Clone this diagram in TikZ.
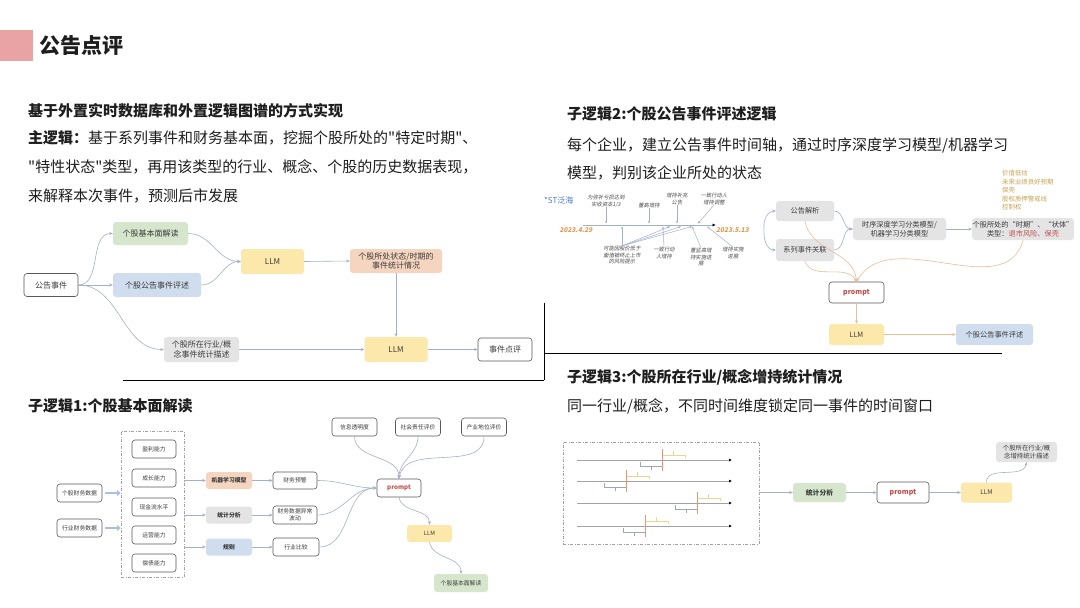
\documentclass[tikz,border=0pt]{standalone}
\usepackage{fontspec}
\setmainfont{Noto Sans CJK SC}
% body text family without TeX quote ligatures, so " stays a straight quote
\newfontfamily\plainfont{Noto Sans CJK SC}
\newfontfamily\slantfont[FakeSlant=0.18]{Noto Sans CJK SC}
\usetikzlibrary{arrows.meta}

\definecolor{ink}{HTML}{1E1E1E}
\definecolor{boxtext}{HTML}{3A3A3A}
\definecolor{outline}{HTML}{5A5A5A}
\definecolor{fillgreen}{HTML}{D6E6CC}
\definecolor{fillblue}{HTML}{CFDDEE}
\definecolor{fillgray}{HTML}{E4E4E4}
\definecolor{fillyellow}{HTML}{FCE8AA}
\definecolor{fillpeach}{HTML}{F5D5BF}
\definecolor{edgeblue}{HTML}{A3B0CC}
\definecolor{edgetan}{HTML}{E9BE9A}
\definecolor{promptred}{HTML}{C0504D}
\definecolor{datecol}{HTML}{E59A52}
\definecolor{goldtext}{HTML}{C9A352}
\definecolor{stblue}{HTML}{4A7CC8}
\definecolor{headpink}{HTML}{E9A3A5}
\definecolor{notegray}{HTML}{4A4A4A}
\definecolor{axisgray}{HTML}{A2A2A2}
\definecolor{markred}{HTML}{E8957A}
\definecolor{bracketyellow}{HTML}{EDD58E}
\definecolor{bracketgray}{HTML}{9FA6B6}
\definecolor{fatarrow}{HTML}{A9C1DE}

\tikzset{
  fbox/.style={rounded corners=3pt, align=center, inner sep=0.5pt, text=boxtext},
  wbox/.style={fbox, draw=outline, fill=white, line width=0.6pt},
  greenbox/.style={fbox, fill=fillgreen},
  bluebox/.style={fbox, fill=fillblue},
  graybox/.style={fbox, fill=fillgray},
  yellowbox/.style={fbox, fill=fillyellow},
  peachbox/.style={fbox, fill=fillpeach},
  fa/.style={font=\fontsize{8}{9.5}\selectfont},
  fb/.style={font=\fontsize{7.2}{9}\selectfont},
  fc/.style={font=\fontsize{5.8}{7}\selectfont},
  fd/.style={font=\fontsize{6.4}{7.8}\selectfont},
  promptlabel/.style={text=promptred, font=\fontsize{7}{8}\selectfont\bfseries},
  conn/.style={draw=edgeblue, line width=0.6pt, -{Stealth[length=3.5pt,width=3pt]}},
  tconn/.style={draw=edgetan, line width=0.6pt, -{Stealth[length=3.5pt,width=3pt]}},
  tick/.style={draw=edgeblue, line width=0.5pt, -{Stealth[length=2.6pt,width=2.2pt]}},
  note/.style={align=center, inner sep=0pt, text=notegray, font=\fontsize{5.3}{6.5}\selectfont\slantfont},
  datelabel/.style={inner sep=0pt, text=datecol, font=\fontsize{6.6}{8}\selectfont\slantfont\bfseries},
  txt/.style={anchor=west, inner sep=0pt, text=ink, font=\fontsize{15}{18}\selectfont\plainfont},
  dashbox/.style={draw=axisgray, line width=0.7pt, dash pattern=on 3pt off 1.5pt on 1pt off 1.5pt},
  rule/.style={draw=black, line width=0.9pt},
}

\begin{document}
\begin{tikzpicture}[x=1pt,y=-1pt]
\useasboundingbox (0,0) rectangle (1080,608);
\fill[white] (0,0) rectangle (1080,608);

% ---------- header ----------
\fill[headpink] (0,30) rectangle (33,61);
\node[anchor=west, inner sep=0pt, text=ink, font=\fontsize{21}{25}\selectfont\bfseries] (title) at (39,46) {公告点评};

% ---------- left text block ----------
\node[txt] (l1) at (28,111) {\bfseries 基于外置实时数据库和外置逻辑图谱的方式实现};
\node[txt] (l2) at (28,138) {{\bfseries 主逻辑：}基于系列事件和财务基本面，挖掘个股所处的"特定时期"、};
\node[txt] (l3) at (28,167) {"特性状态"类型，再用该类型的行业、概念、个股的历史数据表现，};
\node[txt] (l4) at (28,196) {来解释本次事件，预测后市发展};

% ---------- right text block ----------
\node[txt] (r1) at (567,114) {\bfseries 子逻辑2:个股公告事件评述逻辑};
\node[txt] (r2) at (567,145) {每个企业，建立公告事件时间轴，通过时序深度学习模型/机器学习};
\node[txt] (r3) at (567,173) {模型，判别该企业所处的状态};

\node[txt] (s1) at (28,406) {\bfseries 子逻辑1:个股基本面解读};
\node[txt] (s3) at (567,377) {\bfseries 子逻辑3:个股所在行业/概念增持统计情况};
\node[txt] (s3b) at (567,406) {同一行业/概念，不同时间维度锁定同一事件的时间窗口};

% ---------- separators ----------
\draw[rule] (123,380) -- (544,380);
\draw[rule] (544,303) -- (544,380);
\draw[rule] (544,353) -- (1002,353);

% ---------- main flow ----------
\node[wbox, fa, minimum width=54, minimum height=23] (ev) at (51,285) {公告事件};
\node[greenbox, fa, minimum width=75, minimum height=23] (fund) at (150.5,233.5) {个股基本面解读};
\node[bluebox, fa, minimum width=88, minimum height=24] (ann) at (157,285) {个股公告事件评述};
\node[graybox, fa, minimum width=75, minimum height=25] (ind) at (201.5,349.5) {个股所在行业/概\\念事件统计描述};
\node[yellowbox, fa, minimum width=63, minimum height=25] (llmA) at (272.5,261.5) {LLM};
\node[peachbox, fa, minimum width=92, minimum height=24] (stat) at (396,261) {个股所处状态/时期的\\事件统计情况};
\node[yellowbox, fa, minimum width=63, minimum height=25] (llmB) at (396,349.5) {LLM};
\node[wbox, fa, minimum width=54, minimum height=23] (rev) at (505,349.5) {事件点评};

\draw[conn] (ev.east) to[out=0,in=180] (fund.west);
\draw[conn] (ev.east) -- (ann.west);
\draw[conn] (ev.east) to[out=0,in=180] (ind.west);
\draw[conn] (fund.east) to[out=0,in=180] (llmA.west);
\draw[conn] (ann.east) to[out=0,in=180] (llmA.west);
\draw[conn] (llmA.east) -- (stat.west);
\draw[conn] (stat.south) -- (llmB.north);
\draw[conn] (ind.east) -- (llmB.west);
\draw[conn] (llmB.east) -- (rev.west);

% ---------- announcement timeline ----------
\node[anchor=west, inner sep=0pt, text=stblue, font=\fontsize{8}{9}\selectfont] (stname) at (544,200) {*ST泛海};
\coordinate (t0) at (583,225);
\coordinate (t1) at (716,225);
\draw[draw=edgeblue, line width=0.9pt, -{Latex[length=3.5pt,width=3pt,black]}] (t0) -- (t1);
\node[datelabel] (d0) at (576,230) {2023.4.29};
\node[datelabel, anchor=west] (d1) at (716,230) {2023.5.13};

\node[note] (n1) at (606,201) {为弥补亏损达到\\实收资本1/3};
\node[note] (n2) at (649,205) {董高增持};
\node[note] (n3) at (677,199) {增持补充\\公告};
\node[note] (n4) at (714,199) {一致行动人\\增持调整};
\node[note] (n5) at (622,255) {可能因股价低于\\面值被终止上市\\的风险提示};
\node[note] (n6) at (664,253) {一致行动\\人增持};
\node[note] (n7) at (701,257) {董监高增\\持实施进\\展};
\node[note] (n8) at (733,253) {增持实施\\进展};

\coordinate (a1) at (606,223.5);
\coordinate (a2) at (649,223.5);
\coordinate (a3) at (677,223.5);
\coordinate (a4) at (698,223.5);
\draw[tick] (n1.south) -- (a1);
\draw[tick] (n2.south) -- (a2);
\draw[tick] (n3.south) -- (a3);
\draw[tick] (n4.south) -- (a4);

\coordinate (b1) at (622,226.5);
\coordinate (b2) at (663,226.5);
\coordinate (b3) at (670,226.5);
\coordinate (b4) at (681,226.5);
\coordinate (b5) at (692,226.5);
\coordinate (b6) at (707,226.5);
\draw[tick] (n5.north) -- (b1);
\draw[tick] (n5.north) -- (b3);
\draw[tick] (n5.north) -- (b4);
\draw[tick] (n5.north) -- (b5);
\draw[tick] (n6.north) -- (b2);
\draw[tick] (n7.north) -- (b5);
\draw[tick] (n8.north) -- (b6);

% ---------- state classification ----------
\node[graybox, fb, minimum width=58, minimum height=20] (gjx) at (805,211) {公告解析};
\node[graybox, fb, minimum width=58, minimum height=22] (xlsj) at (805,250) {系列事件关联};
\node[graybox, fb, minimum width=93, minimum height=22] (model) at (899.5,229) {时序深度学习分类模型/\\机器学习分类模型};
\node[graybox, fb, minimum width=98, minimum height=22] (state) at (1023,229) {个股所处的“时期”、“状体”\\类型：{\color{promptred}退市风险、保壳}};
\node[anchor=north west, align=left, inner sep=0pt, text=goldtext, font=\fontsize{6.4}{8.5}\selectfont] (kinds) at (1002,170)
  {价值低估\\未来业绩良好预期\\保壳\\股权质押警戒线\\控制权};
\node[wbox, minimum width=55, minimum height=21, promptlabel] (promptR) at (856.5,292.5) {prompt};
\node[yellowbox, fb, minimum width=55, minimum height=21] (llmR) at (856.5,334.5) {LLM};
\node[bluebox, fb, minimum width=77, minimum height=21] (annR) at (994.5,334.5) {个股公告事件评述};

\coordinate (fork) at (764,227);
\draw[conn] (fork) to[out=95,in=180] (gjx.west);
\draw[conn] (fork) to[out=-95,in=180] (xlsj.west);
\draw[conn] (gjx.east) to[out=0,in=180] (model.west);
\draw[conn] (xlsj.east) to[out=0,in=180] (model.west);
\draw[conn] (model.east) -- (state.west);

\draw[tconn] (gjx.south) to[out=-80,in=95] (promptR.north);
\draw[tconn] (xlsj.south) to[out=-70,in=120] (promptR.north);
\draw[tconn] (state.south) to[out=-105,in=60] (promptR.north);
\draw[tconn] (promptR.south) -- (llmR.north);
\draw[tconn] (llmR.east) -- (annR.west);

% ---------- fundamentals flow ----------
\node[dashbox, minimum width=63, minimum height=146, inner sep=0pt] (abil) at (152.5,504) {};
\node[wbox, fc, minimum width=44, minimum height=18] (ab1) at (154,449) {盈利能力};
\node[wbox, fc, minimum width=44, minimum height=18] (ab2) at (154,478) {成长能力};
\node[wbox, fc, minimum width=44, minimum height=18] (ab3) at (154,507) {现金流水平};
\node[wbox, fc, minimum width=44, minimum height=18] (ab4) at (154,535) {运营能力};
\node[wbox, fc, minimum width=44, minimum height=18] (ab5) at (154,563) {偿债能力};

\node[wbox, fc, minimum width=45, minimum height=18] (src1) at (79.5,493) {个股财务数据};
\node[wbox, fc, minimum width=45, minimum height=18] (src2) at (79.5,528) {行业财务数据};
\draw[draw=fatarrow, line width=2pt, -{Triangle[length=3.5pt,width=5.5pt]}] (src1.east) ++(3,0) -- (abil.west |- src1.east);
\draw[draw=fatarrow, line width=2pt, -{Triangle[length=3.5pt,width=5.5pt]}] (src2.east) ++(3,0) -- (abil.west |- src2.east);

\node[peachbox, fc, font=\fontsize{5.8}{7}\selectfont\bfseries, minimum width=46, minimum height=17] (ml) at (229,480.5) {机器学习模型};
\node[graybox, fc, font=\fontsize{5.8}{7}\selectfont\bfseries, minimum width=46, minimum height=17] (sa) at (229,515) {统计分析};
\node[bluebox, fc, font=\fontsize{5.8}{7}\selectfont\bfseries, minimum width=46, minimum height=17] (ru) at (229,547) {规则};

\node[wbox, fc, minimum width=44, minimum height=17] (o1) at (295,480.5) {财务预警};
\node[wbox, fc, minimum width=44, minimum height=18] (o2) at (295,515) {财务数据异常\\波动};
\node[wbox, fc, minimum width=46, minimum height=18] (o3) at (296,547) {行业比较};

\node[wbox, fc, minimum width=45, minimum height=18] (q1) at (354.5,427) {信息透明度};
\node[wbox, fc, minimum width=45, minimum height=18] (q2) at (418,427) {社会责任评价};
\node[wbox, fc, minimum width=45, minimum height=18] (q3) at (484,427) {产业地位评价};

\node[wbox, minimum width=44, minimum height=18, promptlabel, font=\fontsize{6.2}{7}\selectfont\bfseries] (promptL) at (399,488) {prompt};
\node[yellowbox, fc, minimum width=45, minimum height=17] (llmL) at (429.5,533.5) {LLM};
\node[greenbox, fc, minimum width=54, minimum height=18] (fundL) at (461,583) {个股基本面解读};

\draw[conn] (abil.east |- ml.west) -- (ml.west);
\draw[conn] (abil.east |- sa.west) -- (sa.west);
\draw[conn] (abil.east |- ru.west) -- (ru.west);
\draw[conn] (ml.east) -- (o1.west);
\draw[conn] (sa.east) -- (o2.west);
\draw[conn] (ru.east) -- (o3.west);
\draw[conn] (o1.east) to[out=0,in=180] (promptL.west);
\draw[conn] (o2.east) to[out=0,in=180] (promptL.west);
\draw[conn] (o3.east) to[out=0,in=180] (promptL.west);
\draw[conn] (q1.south) to[out=-90,in=90] (promptL.north);
\draw[conn] (q2.south) to[out=-90,in=90] (promptL.north);
\draw[conn] (q3.south) to[out=-90,in=80] (promptL.north);
\draw[conn] (promptL.south) to[out=-80,in=90] (llmL.north);
\draw[conn] (llmL.south) to[out=-80,in=90] (fundL.north);

% ---------- industry windows ----------
\node[dashbox, minimum width=196, minimum height=102, inner sep=0pt] (win) at (661,493) {};
\foreach \yy/\mm in {460/662,481/626,503/697,526/645}{
  \draw[draw=axisgray, line width=0.9pt, -{Latex[length=3pt,width=3pt,black]}] (577,\yy) -- (732,\yy);
  \draw[draw=bracketyellow, line width=0.7pt] (\mm,\yy-5) -- (\mm+23,\yy-5) -- (\mm+23,\yy-2);
  \draw[draw=bracketyellow, line width=0.7pt] (\mm+11.5,\yy-5) -- (\mm+11.5,\yy-9);
  \draw[draw=bracketgray, line width=0.7pt] (\mm-22,\yy+2) -- (\mm-22,\yy+6) -- (\mm,\yy+6);
  \draw[draw=bracketgray, line width=0.7pt] (\mm-11,\yy+6) -- (\mm-11,\yy+10);
  \draw[draw=markred, line width=0.8pt] (\mm,\yy-11) -- (\mm,\yy+11);
}

\node[greenbox, fd, font=\fontsize{6.8}{8}\selectfont\bfseries, minimum width=53, minimum height=19] (sa2) at (819.5,492.5) {统计分析};
\node[wbox, minimum width=52, minimum height=21, promptlabel] (promptB) at (903,492.5) {prompt};
\node[yellowbox, fd, minimum width=51, minimum height=20] (llmB2) at (986.5,492.5) {LLM};
\node[graybox, fd, minimum width=61, minimum height=20] (descB) at (1026.5,452) {个股所在行业/概\\念增持统计描述};

\draw[conn] (win.east |- sa2.west) -- (sa2.west);
\draw[conn] (sa2.east) -- (promptB.west);
\draw[conn] (promptB.east) -- (llmB2.west);
\draw[conn] (llmB2.north) to[out=90,in=-100] (descB.south);

\end{tikzpicture}
\end{document}
